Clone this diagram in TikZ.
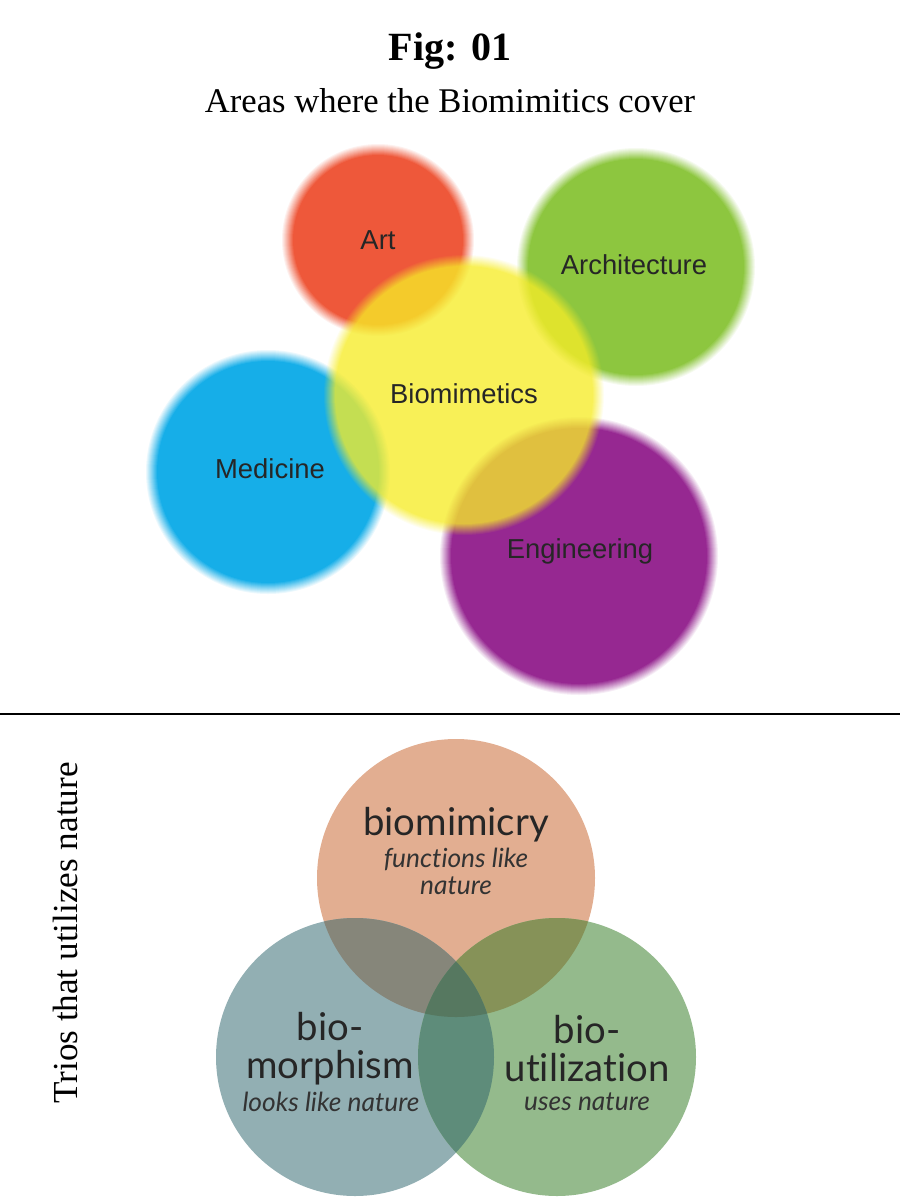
\documentclass[tikz,border=0pt]{standalone}
\usepackage{fontspec}
\setmainfont{Liberation Serif}
\newfontfamily\arialfont{Liberation Sans}
\newfontfamily\vennfont[Ligatures=NoCommon]{Lato}
\usetikzlibrary{positioning}
\definecolor{artred}{RGB}{238,88,58}
\definecolor{archgreen}{RGB}{141,198,63}
\definecolor{bioyellow}{RGB}{246,236,40}
\definecolor{medblue}{RGB}{22,174,232}
\definecolor{engpurple}{RGB}{150,40,145}
\definecolor{mimicpeach}{RGB}{226,174,145}
\definecolor{morphblue}{RGB}{146,175,179}
\definecolor{utilgreen}{RGB}{148,186,140}
\definecolor{mimicmorph}{RGB}{134,134,122}
\definecolor{mimicutil}{RGB}{134,146,88}
\definecolor{morphutil}{RGB}{94,140,122}
\definecolor{allthree}{RGB}{86,120,96}
\begin{document}
\begin{tikzpicture}[x=0.02cm, y=-0.02cm,
    area/.style={font=\arialfont\fontsize{15.6}{18}\selectfont, text=black!85},
    venn/.style={font=\vennfont\fontsize{21.8}{21.6}\selectfont, text=black!85,
                 align=center, inner sep=0pt},
    note/.style={font=\vennfont\itshape\fontsize{15}{15.4}\selectfont, text=black!80,
                 align=center, inner sep=0pt},
    heading/.style={anchor=base, inner sep=0pt}
  ]
  \useasboundingbox (0,0) rectangle (900,1200);

  % titles
  \node[heading, font=\bfseries\fontsize{22.8}{26}\selectfont] (fig) at (450,60) {Fig: 01};
  \node[heading, font=\fontsize{19.7}{22}\selectfont] (sub) at (450,112) {Areas where the Biomimitics cover};

  % soft bubbles (linear fade over 12px)
  \foreach \c/\x/\y/\r in {artred/378/240/96, archgreen/636/267/119,
                           medblue/268/472/122, engpurple/579/556/139}{
    \foreach \d [evaluate=\d as \a using 1/(12-\d)] in {0,1,...,11}
      \fill[\c, fill opacity=\a] (\x,\y) circle (\r-\d);
  }
  \begin{scope}[transparency group, opacity=0.78]
    \foreach \d [evaluate=\d as \a using 1/(12-\d)] in {0,1,...,11}
      \fill[bioyellow, fill opacity=\a] (464,395) circle (140-\d);
  \end{scope}

  \node[area] (art)  at (378,240) {Art};
  \node[area] (arch) at (634,265) {Architecture};
  \node[area] (bio)  at (464,394) {Biomimetics};
  \node[area] (med)  at (270,469) {Medicine};
  \node[area] (eng)  at (580,551) {Engineering};

  % divider
  \coordinate (ruleL) at (0,714);
  \coordinate (ruleR) at (900,714);
  \draw[line width=1.2pt] (ruleL) -- (ruleR);

  \node[rotate=90, font=\fontsize{20}{22}\selectfont] (trios) at (65,933) {Trios that utilizes nature};

  % venn
  \coordinate (mimic) at (456,878);
  \coordinate (morph) at (355,1057);
  \coordinate (util)  at (557,1057);
  \fill[mimicpeach] (mimic) circle (139);
  \fill[morphblue]  (morph) circle (139);
  \fill[utilgreen]  (util)  circle (139);
  \begin{scope}
    \clip (mimic) circle (139);
    \fill[mimicmorph] (morph) circle (139);
    \fill[mimicutil]  (util)  circle (139);
  \end{scope}
  \begin{scope}
    \clip (morph) circle (139);
    \fill[morphutil] (util) circle (139);
  \end{scope}
  \begin{scope}
    \clip (mimic) circle (139);
    \clip (morph) circle (139);
    \fill[allthree] (util) circle (139);
  \end{scope}

  \node[venn] (mimicry) at (456,825) {biomimicry};
  \node[note] (mimicnote) at (456,871) {functions like\\nature};
  \node[venn] (morphism) at (330,1049) {bio-\\morphism};
  \node[note] (morphnote) at (331,1102) {looks like nature};
  \node[venn] (utilization) at (587,1049) {bio-\\utilization};
  \node[note] (utilnote) at (587,1102) {uses nature};
\end{tikzpicture}
\end{document}
